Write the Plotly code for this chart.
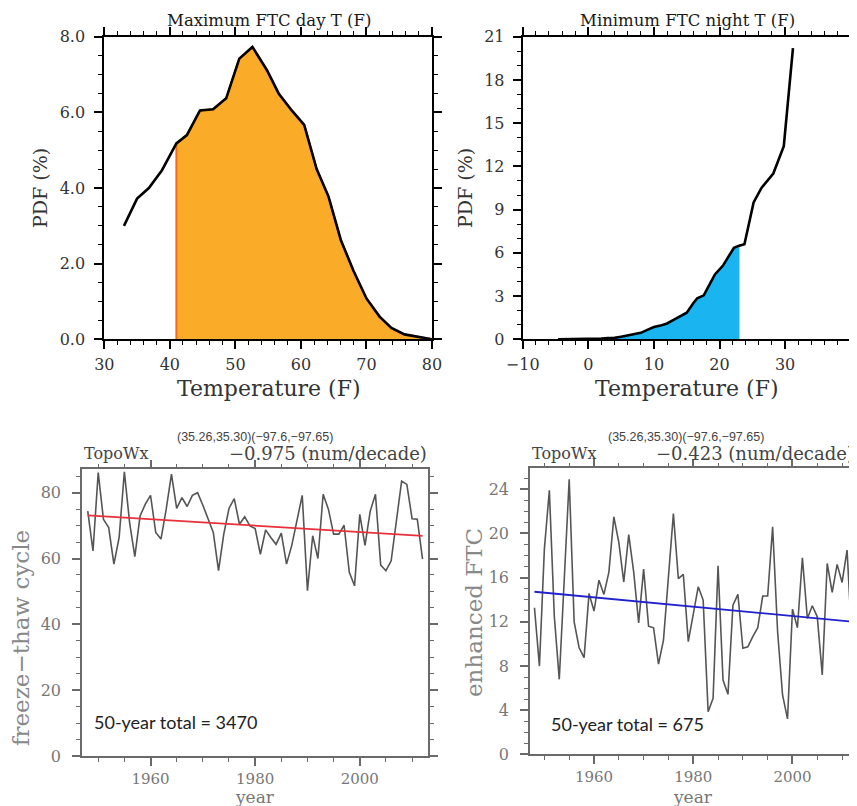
import plotly.graph_objects as go

# page body has an 8px margin, so the figure is drawn 8px in from the corner
OFF = 8
W, H = 857 - OFF, 806 - OFF

# ---------------- data ----------------
# Top-left: PDF of maximum FTC day temperature
temp_max = [33, 35, 36.8, 38.8, 41, 42.6, 44.6, 46.6, 48.6, 50.6, 52.6, 54.8, 56.6, 58.6,
            60.5, 62.4, 64.2, 66.1, 68, 70, 72, 73.8, 75.8, 77.8, 80]
pdf_max = [3.0, 3.72, 4.0, 4.47, 5.18, 5.40, 6.05, 6.08, 6.37, 7.42, 7.73, 7.12, 6.5, 6.05,
           5.67, 4.5, 3.78, 2.62, 1.82, 1.08, 0.6, 0.3, 0.13, 0.07, 0.0]
max_shade_from = 41

# Top-right: PDF of minimum FTC night temperature
temp_min = [-4.6, -3, -1, 0, 1, 2, 3, 4, 5, 6, 7, 8, 9, 10, 11, 12, 13, 14, 15, 16, 16.6,
            17.6, 18.5, 19.3, 20.5, 21.4, 22.2, 23, 23.8, 25.2, 26.4, 28.2, 29.8, 31.2]
pdf_min = [0.0, 0.0, 0.02, 0.05, 0.03, 0.05, 0.08, 0.1, 0.18, 0.27, 0.32, 0.45, 0.65, 0.85,
           0.95, 1.1, 1.35, 1.6, 1.85, 2.5, 2.85, 3.05, 3.8, 4.5, 5.1, 5.8, 6.35, 6.5, 6.6,
           9.5, 10.5, 11.5, 13.4, 20.2]
min_shade_to = 23

# Bottom: annual series 1948-2012
years = list(range(1948, 2013))
ftc = [74.4, 62.3, 86.1, 71.9, 69.4, 58.3, 66.4, 86.3, 70.9, 60.6,
       72.9, 76.5, 79.2, 67.9, 65.9, 75.0, 85.6, 75.2, 78.5, 75.8,
       79.2, 80.0, 76.2, 71.9, 67.9, 56.3, 67.4, 75.2, 78.2, 70.4,
       72.7, 69.9, 69.1, 61.3, 68.7, 66.4, 64.3, 67.7, 58.3, 64.0,
       71.9, 79.2, 50.2, 66.9, 60.0, 79.5, 75.0, 67.4, 67.4, 70.1,
       55.8, 51.7, 73.4, 64.0, 74.4, 79.5, 58.0, 56.3, 59.3, 72.1,
       83.5, 82.5, 72.1, 71.9, 59.8]
eftc = [13.27, 7.99, 18.6, 23.9, 12.5, 6.79, 15.8, 24.9, 12.0, 9.65,
        8.75, 14.57, 12.97, 15.77, 14.48, 16.5, 21.5, 19.2, 15.6, 19.9,
        16.5, 11.9, 16.77, 11.6, 11.46, 8.17, 10.34, 16.2, 21.8, 15.9,
        16.3, 10.2, 12.76, 15.17, 13.97, 3.86, 5.07, 17.07, 6.72, 5.43,
        13.5, 14.48, 9.6, 9.74, 10.65, 11.46, 14.33, 14.33, 20.6, 11.1,
        5.37, 3.2, 13.15, 11.46, 17.8, 12.3, 13.45, 12.45, 7.18, 17.28,
        14.66, 17.2, 15.56, 18.5, 10.05]
ftc_trend_per_decade = -0.975
ftc_trend_start = 73.1
eftc_trend_per_decade = -0.423
eftc_trend_start = 14.72
ftc_total = 3470
eftc_total = 675
location_label = "(35.26,35.30)(\u221297.6,\u221297.65)"

# ---------------- helpers ----------------
def X(px):
    return (px - OFF) / W

def Y(py):
    return 1 - (py - OFF) / H

SERIF = "DejaVu Serif"
BLACK = "#1a1a1a"
GRAY_AX = "#6a6a6a"

def axis(domain, rng, dtick, mdtick, color, anchor, fsize, fcolor, tick0=0,
         fmt=None, lw=2, standoff=0):
    d = dict(domain=domain, range=rng, dtick=dtick, tick0=tick0, ticks="outside",
             ticklen=8, tickwidth=1.5, tickcolor=color, linecolor=color, linewidth=lw,
             showline=True, mirror="ticks", showgrid=False, zeroline=False,
             anchor=anchor, automargin=False, ticklabelstandoff=standoff,
             tickfont=dict(family=SERIF, size=fsize, color=fcolor),
             minor=dict(dtick=mdtick, tick0=tick0, ticks="outside", ticklen=4,
                        tickwidth=1, tickcolor=color, showgrid=False))
    if fmt:
        d["tickformat"] = fmt
    return d

fig = go.Figure()

# ---- top-left ----
shade_x = [max_shade_from] + [t for t in temp_max if t >= max_shade_from]
shade_y = [0] + [p for t, p in zip(temp_max, pdf_max) if t >= max_shade_from]
fig.add_trace(go.Scatter(x=shade_x, y=shade_y, fill="tozeroy", fillcolor="#FAAC28",
                         mode="lines", line=dict(color="#F26B1D", width=2),
                         xaxis="x", yaxis="y", showlegend=False, hoverinfo="skip"))
fig.add_trace(go.Scatter(x=temp_max, y=pdf_max, mode="lines",
                         line=dict(color="black", width=2.6),
                         xaxis="x", yaxis="y", showlegend=False))

# ---- top-right ----
sx = [t for t in temp_min if t <= min_shade_to] + [min_shade_to]
sy = [p for t, p in zip(temp_min, pdf_min) if t <= min_shade_to] + [0]
fig.add_trace(go.Scatter(x=sx, y=sy, fill="tozeroy", fillcolor="#1AB4F0",
                         mode="lines", line=dict(color="#1AB4F0", width=0.5),
                         xaxis="x2", yaxis="y2", showlegend=False, hoverinfo="skip"))
fig.add_trace(go.Scatter(x=temp_min, y=pdf_min, mode="lines",
                         line=dict(color="black", width=2.6),
                         xaxis="x2", yaxis="y2", showlegend=False))

# ---- bottom-left ----
fig.add_trace(go.Scatter(x=years, y=ftc, mode="lines",
                         line=dict(color="#555555", width=1.6),
                         xaxis="x3", yaxis="y3", showlegend=False))
tr1 = [ftc_trend_start,
       ftc_trend_start + ftc_trend_per_decade * (years[-1] - years[0]) / 10]
fig.add_trace(go.Scatter(x=[years[0], years[-1]], y=tr1, mode="lines",
                         line=dict(color="#E8303A", width=1.8),
                         xaxis="x3", yaxis="y3", showlegend=False))

# ---- bottom-right ----
fig.add_trace(go.Scatter(x=years, y=eftc, mode="lines",
                         line=dict(color="#555555", width=1.6),
                         xaxis="x4", yaxis="y4", showlegend=False))
tr2 = [eftc_trend_start,
       eftc_trend_start + eftc_trend_per_decade * (years[-1] - years[0]) / 10]
fig.add_trace(go.Scatter(x=[years[0], years[-1]], y=tr2, mode="lines",
                         line=dict(color="#2222CC", width=1.8),
                         xaxis="x4", yaxis="y4", showlegend=False))

# ---------------- layout ----------------
tl_x = [X(104.3), X(432)]
tr_x = [X(522.7), X(850.7)]
top_y = [Y(339.3), Y(36.7)]
bl_x = [X(82), X(428.3)]
bl_y = [Y(756), Y(469.3)]
br_x = [X(530), X(855)]
br_y = [Y(754.3), Y(468.3)]

layout = dict(
    width=W, height=H, margin=dict(l=0, r=0, t=0, b=0),
    paper_bgcolor="white", plot_bgcolor="white", template="none",
    xaxis=axis(tl_x, [30, 80], 10, 2, "black", "y", 16, "#333333", standoff=1),
    yaxis=axis(top_y, [0, 8], 2, 0.5, "black", "x", 16, "#333333", fmt=".1f", standoff=6),
    xaxis2=axis(tr_x, [-10, 40], 10, 2, "black", "y2", 16, "#333333", standoff=1),
    yaxis2=axis(top_y, [0, 21], 3, 1, "black", "x2", 16, "#333333", standoff=5),
    xaxis3=axis(bl_x, [1946.9, 2013.1], 20, 5, GRAY_AX, "y3", 15, "#777777",
                tick0=1960, lw=1.5, standoff=0),
    yaxis3=axis(bl_y, [0, 87.1], 20, 5, GRAY_AX, "x3", 16, "#777777", lw=1.5, standoff=8),
    xaxis4=axis(br_x, [1947.1, 2012.6], 20, 5, GRAY_AX, "y4", 15, "#777777",
                tick0=1960, lw=1.5, standoff=0),
    yaxis4=axis(br_y, [0, 25.9], 4, 1, GRAY_AX, "x4", 16, "#777777", lw=1.5, standoff=8),
)

ann = []
def txt(x, y, s, size, color, family=SERIF, xanchor="center", yanchor="middle", angle=0):
    ann.append(dict(x=x, y=y, xref="paper", yref="paper", text=s, showarrow=False,
                    xanchor=xanchor, yanchor=yanchor, textangle=angle,
                    font=dict(family=family, size=size, color=color)))

# top titles
txt(X(269), Y(20), "Maximum FTC day T (F)", 16.5, BLACK)
txt(X(687), Y(20), "Minimum FTC night T (F)", 16.5, BLACK)
txt(X(269), Y(388), "Temperature (F)", 22, "#333333")
txt(X(687), Y(388), "Temperature (F)", 22, "#333333")
txt(X(40), Y(188), "PDF (%)", 19, "#333333", angle=-90)
txt(X(465), Y(188), "PDF (%)", 19, "#333333", angle=-90)

# bottom-left
txt(X(255), Y(437), location_label, 12.5, "#444444", family="Liberation Sans")
txt(X(82), Y(453), "TopoWx", 16, "#444444", xanchor="left")
txt(X(429), Y(453), "\u22120.975 (num/decade)", 18, "#444444", xanchor="right")
txt(X(21), Y(638), "freeze\u2212thaw cycle", 23, "#888888", angle=-90)
txt(X(255), Y(797), "year", 17, "#777777")
txt(X(92), Y(722), "50-year total = %d" % ftc_total, 18, "#222222", family="Lato", xanchor="left")

# bottom-right
txt(X(686), Y(437), location_label, 12.5, "#444444", family="Liberation Sans")
txt(X(530), Y(453), "TopoWx", 16, "#444444", xanchor="left")
txt(X(856), Y(453), "\u22120.423 (num/decade)", 18, "#444444", xanchor="right")
txt(X(474), Y(613), "enhanced FTC", 23, "#888888", angle=-90)
txt(X(693), Y(797), "year", 17, "#777777")
txt(X(549), Y(724), "50-year total = %d" % eftc_total, 18, "#222222", family="Lato", xanchor="left")

layout["annotations"] = ann
fig.update_layout(**layout)
fig.write_html("out.html")
